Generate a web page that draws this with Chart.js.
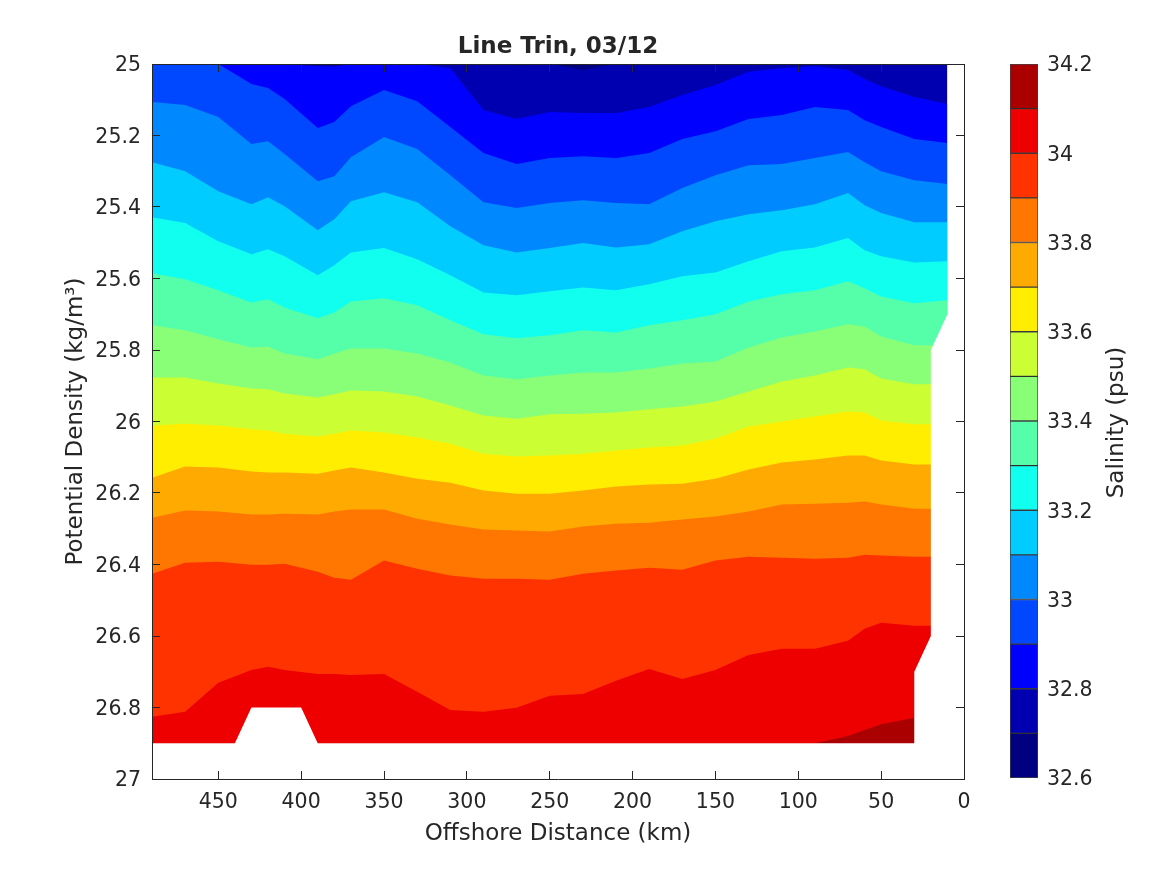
<!DOCTYPE html>
<html>
<head>
<meta charset="utf-8">
<title>Line Trin, 03/12</title>
<script src="https://cdn.jsdelivr.net/npm/chart.js@4"></script>
<style>
    html, body { margin: 0; background: #fff; overflow: hidden; }
    canvas { position: absolute; top: 0; }
    #sectionChart { left: 0; }
    #colorbarChart { left: 1010px; }
</style>
</head>
<body>
<canvas id="sectionChart" width="1167" height="875"></canvas>
<canvas id="colorbarChart" width="157" height="875"></canvas>
<script>
/* ======================================================
   DATA
====================================================== */
const distanceKm = [490, 470, 450, 430, 420, 410, 390, 380, 370, 350, 330, 310, 290, 270, 250, 230, 210, 190, 170, 150, 130, 110, 90, 70, 60, 50, 30, 10];

// density of each salinity contour along distanceKm
const iso326 = [25, 25, 25, 25, 25, 25, 25, 25, 25, 25, 25, 25, 25, 25, 25, 25, 25, 25, 25, 25, 25, 25, 25, 25, 25, 25, 25, 25];
const iso327 = [25, 25, 25, 25, 25, 25, 25, 25, 25, 25, 25, 25, 25, 25.004, 25, 25.017, 25, 25, 25, 25, 25, 25, 25, 25, 25, 25, 25, 25];
const iso328 = [25, 25, 25, 25, 25, 25, 25.006, 25.008, 25, 25, 25, 25.012, 25.129, 25.154, 25.134, 25.137, 25.137, 25.12, 25.087, 25.059, 25.022, 25.011, 25.006, 25.017, 25.042, 25.062, 25.092, 25.112];
const iso329 = [25, 25, 25, 25.056, 25.067, 25.098, 25.179, 25.162, 25.118, 25.073, 25.104, 25.176, 25.249, 25.28, 25.263, 25.258, 25.263, 25.249, 25.21, 25.188, 25.154, 25.143, 25.12, 25.129, 25.157, 25.176, 25.21, 25.221];
const iso330 = [25.106, 25.115, 25.148, 25.224, 25.216, 25.252, 25.328, 25.314, 25.261, 25.204, 25.238, 25.311, 25.387, 25.403, 25.389, 25.381, 25.389, 25.392, 25.347, 25.311, 25.283, 25.28, 25.263, 25.246, 25.275, 25.3, 25.325, 25.336];
const iso331 = [25.275, 25.3, 25.356, 25.392, 25.373, 25.398, 25.465, 25.434, 25.384, 25.359, 25.387, 25.454, 25.507, 25.527, 25.515, 25.501, 25.513, 25.504, 25.468, 25.44, 25.42, 25.409, 25.392, 25.361, 25.395, 25.417, 25.443, 25.443];
const iso332 = [25.429, 25.445, 25.496, 25.532, 25.518, 25.538, 25.591, 25.563, 25.527, 25.515, 25.546, 25.591, 25.639, 25.647, 25.636, 25.625, 25.633, 25.616, 25.594, 25.583, 25.552, 25.524, 25.513, 25.487, 25.521, 25.538, 25.555, 25.552];
const iso333 = [25.585, 25.602, 25.633, 25.667, 25.658, 25.681, 25.711, 25.695, 25.664, 25.655, 25.675, 25.717, 25.756, 25.767, 25.759, 25.745, 25.751, 25.731, 25.717, 25.7, 25.664, 25.644, 25.633, 25.608, 25.627, 25.65, 25.669, 25.661];
const iso334 = [25.731, 25.745, 25.77, 25.793, 25.79, 25.81, 25.826, 25.81, 25.796, 25.796, 25.81, 25.835, 25.871, 25.882, 25.871, 25.863, 25.863, 25.852, 25.838, 25.832, 25.793, 25.765, 25.748, 25.728, 25.734, 25.762, 25.787, 25.787];
const iso335 = [25.877, 25.877, 25.894, 25.908, 25.91, 25.922, 25.933, 25.924, 25.913, 25.916, 25.93, 25.955, 25.983, 25.992, 25.98, 25.978, 25.975, 25.966, 25.958, 25.944, 25.916, 25.888, 25.871, 25.849, 25.854, 25.88, 25.896, 25.896];
const iso336 = [26.011, 26.006, 26.011, 26.022, 26.025, 26.034, 26.042, 26.034, 26.025, 26.031, 26.045, 26.062, 26.09, 26.098, 26.095, 26.09, 26.081, 26.073, 26.067, 26.048, 26.014, 26, 25.986, 25.972, 25.975, 25.997, 26.008, 26.008];
const iso337 = [26.157, 26.126, 26.129, 26.14, 26.143, 26.143, 26.146, 26.137, 26.129, 26.143, 26.16, 26.171, 26.193, 26.202, 26.202, 26.193, 26.182, 26.176, 26.174, 26.16, 26.134, 26.115, 26.106, 26.095, 26.095, 26.109, 26.12, 26.12];
const iso338 = [26.269, 26.249, 26.252, 26.26, 26.26, 26.258, 26.26, 26.252, 26.246, 26.246, 26.272, 26.288, 26.302, 26.305, 26.308, 26.294, 26.286, 26.283, 26.274, 26.266, 26.252, 26.232, 26.23, 26.227, 26.224, 26.232, 26.244, 26.244];
const iso339 = [26.426, 26.395, 26.392, 26.401, 26.401, 26.398, 26.42, 26.437, 26.443, 26.389, 26.412, 26.431, 26.44, 26.44, 26.443, 26.426, 26.417, 26.409, 26.415, 26.389, 26.378, 26.381, 26.384, 26.381, 26.373, 26.375, 26.378, 26.378];
const iso340 = [26.826, 26.812, 26.731, 26.695, 26.686, 26.695, 26.706, 26.706, 26.709, 26.706, 26.756, 26.807, 26.812, 26.801, 26.767, 26.762, 26.725, 26.692, 26.72, 26.695, 26.653, 26.636, 26.636, 26.613, 26.58, 26.563, 26.571, 26.571];
const iso341 = [26.9, 26.9, 26.9, 26.9, 26.9, 26.9, 26.9, 26.9, 26.9, 26.9, 26.9, 26.9, 26.9, 26.9, 26.9, 26.9, 26.9, 26.9, 26.9, 26.9, 26.9, 26.9, 26.9, 26.88, 26.863, 26.847, 26.829, 26.829];

// edge of the sampled section, white below it
const edgeKm = [0, 10, 10, 20, 20, 30, 30, 390, 400, 430, 440, 490];
const edgeDensity = [25, 25, 25.7, 25.8, 26.6, 26.7, 26.9, 26.9, 26.8, 26.8, 26.9, 26.9];

const salinityLevels = [32.6, 32.7, 32.8, 32.9, 33, 33.1, 33.2, 33.3, 33.4, 33.5, 33.6, 33.7, 33.8, 33.9, 34, 34.1, 34.2];
const bandColors = ['#000080', '#0000b0', '#0000ff', '#0048ff', '#0088ff', '#00ccff', '#11ffee', '#55ffaa', '#88ff77', '#ccff33', '#ffee00', '#ffaa00', '#ff7700', '#ff3300', '#ee0000', '#aa0000'];

/* ======================================================
   STYLE
====================================================== */
const INK = '#262626';
const FONT = 'DejaVu Sans';
const TICK_SIZE = 20.5;
const LABEL_SIZE = 23;
Chart.defaults.font.family = FONT;
Chart.defaults.color = INK;

function pinWidth(w) { return s => { s.width = w; }; }
function pinHeight(h) { return s => { s.height = h; }; }

function boxGrid() {
    return {
        drawOnChartArea: false,
        tickLength: -8,
        color: INK,
        z: 1
    };
}
const boxBorder = { color: INK, width: 1, z: 1 };

/* ======================================================
   SECTION CHART
====================================================== */
const isoLines = [iso341, iso340, iso339, iso338, iso337, iso336, iso335, iso334, iso333, iso332, iso331, iso330, iso329, iso328, iso327, iso326];
const fillDown = { value: 27 };

// first dataset is painted last, so the white edge goes first
const sectionDatasets = [{
    data: edgeKm.map((x, i) => ({ x, y: edgeDensity[i] })),
    backgroundColor: '#ffffff',
    fill: fillDown
}];
isoLines.forEach((line, i) => {
    sectionDatasets.push({
        data: distanceKm.map((x, j) => ({ x, y: line[j] })),
        backgroundColor: bandColors[bandColors.length - 1 - i],
        fill: fillDown
    });
});

new Chart(document.getElementById('sectionChart'), {
    type: 'line',
    data: { datasets: sectionDatasets },
    options: {
        responsive: false,
        animation: false,
        devicePixelRatio: 1,
        layout: { padding: 0 },
        elements: {
            point: { radius: 0 },
            line: { borderWidth: 0, tension: 0 }
        },
        plugins: {
            legend: { display: false },
            tooltip: { enabled: false }
        },
        scales: {
            x: {
                type: 'linear',
                position: 'bottom',
                reverse: true,
                min: 0,
                max: 490,
                afterFit: pinHeight(96),
                grid: boxGrid(),
                border: boxBorder,
                ticks: {
                    stepSize: 50,
                    includeBounds: false,
                    autoSkip: false,
                    maxRotation: 0,
                    padding: 19,
                    font: { size: TICK_SIZE }
                },
                title: {
                    display: true,
                    text: 'Offshore Distance (km)',
                    font: { size: LABEL_SIZE },
                    padding: { top: 0, bottom: 27 }
                }
            },
            xTop: {
                type: 'linear',
                axis: 'x',
                position: 'top',
                reverse: true,
                min: 0,
                max: 490,
                afterFit: pinHeight(64),
                grid: boxGrid(),
                border: boxBorder,
                ticks: { display: false, stepSize: 50, includeBounds: false },
                title: {
                    display: true,
                    text: 'Line Trin, 03/12',
                    font: { size: LABEL_SIZE, weight: 'bold' },
                    padding: { top: 33, bottom: 0 }
                }
            },
            y: {
                type: 'linear',
                position: 'left',
                reverse: true,
                min: 25,
                max: 27,
                afterFit: pinWidth(152),
                grid: boxGrid(),
                border: boxBorder,
                ticks: {
                    stepSize: 0.2,
                    autoSkip: false,
                    padding: 19,
                    labelOffset: 2,
                    font: { size: TICK_SIZE },
                    callback: v => String(+v.toFixed(1))
                },
                title: {
                    display: true,
                    text: 'Potential Density (kg/m³)',
                    font: { size: LABEL_SIZE },
                    padding: { top: 62, bottom: 0 }
                }
            },
            yRight: {
                type: 'linear',
                axis: 'y',
                position: 'right',
                reverse: true,
                min: 25,
                max: 27,
                afterFit: pinWidth(203),
                grid: boxGrid(),
                border: boxBorder,
                ticks: { display: false, stepSize: 0.2 }
            }
        }
    }
});

/* ======================================================
   COLORBAR
====================================================== */
const colorbarLabel = {
    id: 'colorbarLabel',
    afterDraw(chart) {
        const ctx = chart.ctx;
        ctx.save();
        ctx.translate(107, (chart.chartArea.top + chart.chartArea.bottom) / 2 + 1.5);
        ctx.rotate(-Math.PI / 2);
        ctx.font = LABEL_SIZE + 'px "' + FONT + '"';
        ctx.fillStyle = INK;
        ctx.textAlign = 'center';
        ctx.textBaseline = 'middle';
        ctx.fillText('Salinity (psu)', 0, 0);
        ctx.restore();
    }
};

new Chart(document.getElementById('colorbarChart'), {
    type: 'bar',
    data: {
        labels: ['Salinity'],
        datasets: bandColors.map((color, i) => ({
            data: [[salinityLevels[i], salinityLevels[i + 1]]],
            backgroundColor: color,
            borderColor: 'rgba(20,20,20,0.8)',
            borderWidth: 1,
            borderSkipped: false,
            barPercentage: 1,
            categoryPercentage: 1
        }))
    },
    options: {
        responsive: false,
        animation: false,
        devicePixelRatio: 1,
        layout: { padding: { top: 64, bottom: 97 } },
        plugins: {
            legend: { display: false },
            tooltip: { enabled: false }
        },
        scales: {
            x: { stacked: true, display: false },
            y: {
                position: 'right',
                min: 32.6,
                max: 34.2,
                afterFit: pinWidth(129),
                grid: { display: false, drawTicks: false },
                border: { display: false },
                ticks: {
                    stepSize: 0.2,
                    padding: 9,
                    labelOffset: 2,
                    font: { size: TICK_SIZE },
                    callback: v => String(+v.toFixed(1))
                }
            }
        }
    },
    plugins: [colorbarLabel]
});
</script>
</body>
</html>
